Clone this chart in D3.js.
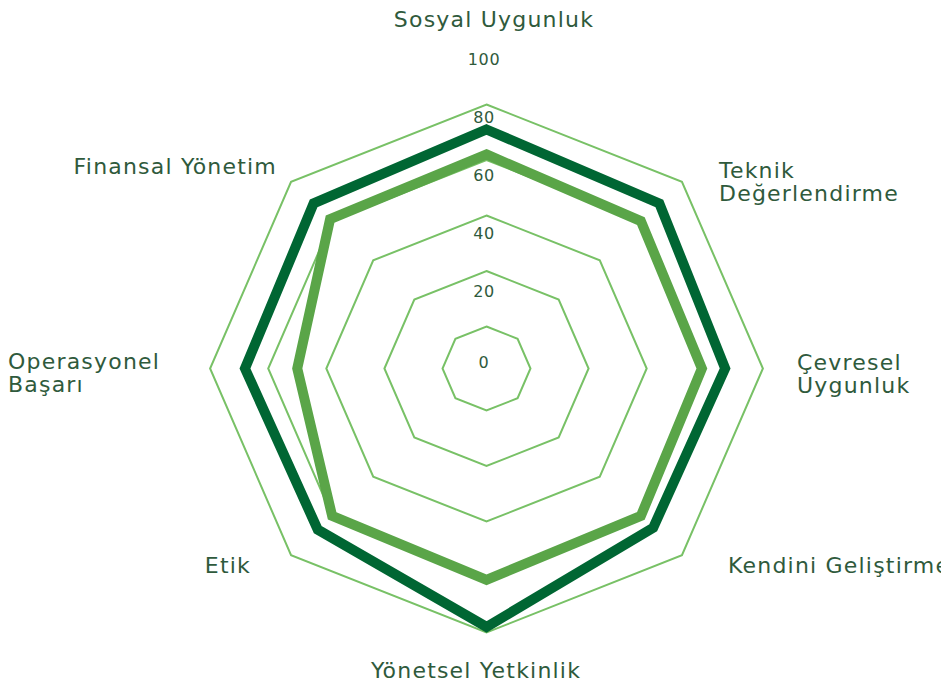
<!DOCTYPE html>
<html>
<head>
<meta charset="utf-8">
<script src="https://cdn.jsdelivr.net/npm/d3@7"></script>
<style>
  body { margin: 0; background: #fff; }
  svg text { font-family: "DejaVu Sans", sans-serif; fill: #2f5a3c; }
</style>
</head>
<body>
<div id="chart"></div>
<script>
  // axes, clockwise from the top
  var axes = [
    ["Sosyal Uygunluk"],
    ["Teknik", "Değerlendirme"],
    ["Çevresel", "Uygunluk"],
    ["Kendini Geliştirme"],
    ["Yönetsel Yetkinlik"],
    ["Etik"],
    ["Operasyonel", "Başarı"],
    ["Finansal Yönetim"]
  ];
  var darkSeries = [71, 69, 67, 66, 78, 67, 68, 69];
  var lightSeries = [62, 60, 59, 60, 61, 60, 50, 61];
  var gridLevels = [0, 20, 40, 60, 80];
  var tickLabels = [0, 20, 40, 60, 80, 100];

  var width = 941, height = 684,
      cx = 486.5, cy = 368.5,
      stretchX = 1.047;

  var svg = d3.select("#chart").append("svg")
      .attr("width", width)
      .attr("height", height);

  var r = d3.scaleLinear().domain([0, 80]).range([42, 264]);
  var angle = d3.scaleLinear().domain([0, axes.length]).range([0, 2 * Math.PI]);
  // tick labels sit on their own spacing in the original
  var tickY = d3.scaleLinear().domain([0, 20, 100]).range([362, 291, 59]);

  function point(v, i) {
    var a = angle(i);
    return [cx + stretchX * r(v) * Math.sin(a), cy - r(v) * Math.cos(a)];
  }

  var line = d3.line().curve(d3.curveLinearClosed);

  // grid octagons
  svg.append("g")
    .selectAll("path")
      .data(gridLevels)
    .enter().append("path")
      .attr("d", lv => line(axes.map((_, i) => point(lv, i))))
      .attr("fill", "none")
      .attr("stroke", "#78c166")
      .attr("stroke-width", 2);

  // series
  var series = [
    { values: darkSeries, color: "#006633" },
    { values: lightSeries, color: "#5aa548" }
  ];
  svg.append("g")
    .selectAll("path")
      .data(series)
    .enter().append("path")
      .attr("d", s => line(s.values.map((v, i) => point(v, i))))
      .attr("fill", "none")
      .attr("stroke", s => s.color)
      .attr("stroke-width", 10)
      .attr("stroke-linejoin", "miter");

  // tick labels
  svg.append("g")
    .selectAll("text")
      .data(tickLabels)
    .enter().append("text")
      .attr("x", 484)
      .attr("y", d => tickY(d))
      .attr("dy", "0.35em")
      .attr("text-anchor", "middle")
      .attr("font-size", "16px")
      .attr("letter-spacing", "0.6px")
      .text(d => d);

  // axis labels
  var labelPos = [
    { x: 494, y: 19, anchor: "middle" },
    { x: 719, y: 170, anchor: "start" },
    { x: 797, y: 362, anchor: "start" },
    { x: 728, y: 565, anchor: "start" },
    { x: 476, y: 670, anchor: "middle" },
    { x: 251, y: 565, anchor: "end" },
    { x: 8, y: 361, anchor: "start" },
    { x: 277, y: 166, anchor: "end" }
  ];

  var labels = svg.append("g")
    .selectAll("text")
      .data(axes)
    .enter().append("text")
      .attr("x", (d, i) => labelPos[i].x)
      .attr("y", (d, i) => labelPos[i].y)
      .attr("text-anchor", (d, i) => labelPos[i].anchor)
      .attr("font-size", "22px")
      .attr("letter-spacing", "1.2px");

  labels.selectAll("tspan")
      .data(d => d)
    .enter().append("tspan")
      .attr("x", function() { return d3.select(this.parentNode).attr("x"); })
      .attr("dy", (d, j) => j == 0 ? "0.35em" : "23px")
      .text(d => d);
</script>
</body>
</html>
